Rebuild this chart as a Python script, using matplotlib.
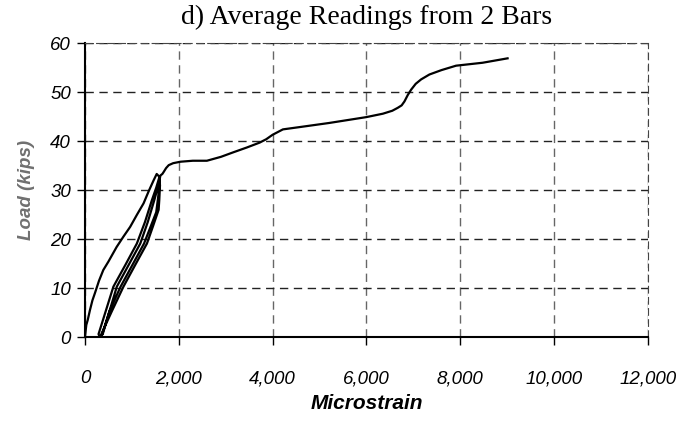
import matplotlib.pyplot as plt
from matplotlib.ticker import FuncFormatter

# average strain readings from the 2 bars (load in kips)
# first loading up to ~33 kips
load_strain = [0, 30, 60, 107, 160, 214, 300, 392, 500, 676, 820, 964,
               1110, 1250, 1360, 1464, 1530]
load_kips = [0, 2.5, 3.5, 5.5, 7.5, 9, 11.5, 13.7, 15.4, 18.4, 20.5, 22.5,
             25, 27.3, 29.8, 32, 33.3]

# unload / reload cycles
cycle_strain = [1580, 1600, 1585, 1571, 1450, 1322, 1070, 821, 570, 321,
                290, 450, 607, 860, 1107, 1280, 1429, 1520, 1585,
                1595, 1560, 1520, 1390, 1260, 1010, 760, 520, 360,
                380, 530, 680, 930, 1180, 1340, 1480, 1560, 1610]
cycle_kips = [32.8, 31, 28, 26, 22.6, 19.1, 14.7, 10.3, 5.2, 0,
              0.6, 5.5, 10.3, 14.7, 19.1, 23.5, 28, 30.5, 32.6,
              31.5, 28.5, 25.5, 22.3, 19.1, 14.7, 10.3, 5.2, 0.4,
              0.6, 5.5, 10.3, 14.7, 19.1, 23.5, 28, 30.8, 33]

# after the cycles, on to failure
fail_strain = [1650, 1678, 1730, 1786, 1880, 2036, 2300, 2600, 2900, 3156,
               3450, 3724, 3866, 4000, 4220, 4600, 5200, 5995, 6350, 6550,
               6667, 6750, 6810, 6880, 6952, 7050, 7165, 7342, 7600, 7910,
               8476, 9008]
fail_kips = [33.3, 33.7, 34.5, 35.1, 35.5, 35.8, 36.0, 36.0, 36.8, 37.7,
             38.7, 39.7, 40.4, 41.3, 42.4, 42.9, 43.7, 44.9, 45.6, 46.2,
             46.8, 47.3, 48.1, 49.4, 50.5, 51.7, 52.6, 53.6, 54.5, 55.4,
             56.0, 56.9]

strain = load_strain + cycle_strain + fail_strain
kips = load_kips + cycle_kips + fail_kips

fig = plt.figure(figsize=(6.96, 4.23), dpi=100)
ax = fig.add_axes([0.122, 0.203, 0.809, 0.695])

ax.plot(strain, kips, color='black', lw=1.6, solid_joinstyle='round')

ax.set_xlim(0, 12000)
ax.set_ylim(0, 60)
ax.set_xticks(range(0, 12001, 2000))
ax.set_yticks(range(0, 61, 10))
ax.xaxis.set_major_formatter(FuncFormatter(lambda v, p: f"{int(v):,}"))

ax.grid(True, axis='x', ls=(0, (6, 4)), color='#666666', lw=1)
ax.grid(True, axis='y', ls=(0, (6, 4)), color='#222222', lw=1)

ax.spines['left'].set_linewidth(1.5)
ax.spines['bottom'].set_linewidth(1.5)
for s in ['top', 'right']:
    ax.spines[s].set_linestyle((0, (6, 4)))
    ax.spines[s].set_color('#444444')

ax.tick_params(axis='x', length=6, width=1, pad=18)
ax.tick_params(axis='y', length=6, width=1, pad=4)
for lab in ax.get_xticklabels() + ax.get_yticklabels():
    lab.set_fontfamily('Liberation Sans')
    lab.set_fontstyle('italic')
    lab.set_fontsize(13.5)

ax.set_xlabel('Microstrain', fontfamily='Liberation Sans', fontstyle='italic',
              fontweight='bold', fontsize=15, labelpad=5)
ax.set_ylabel('Load (kips)', fontfamily='Liberation Sans', fontstyle='italic',
              fontweight='bold', fontsize=13.5, color='#707070', labelpad=11)
ax.set_title('d) Average Readings from 2 Bars', fontfamily='Liberation Serif',
             fontsize=20, pad=14)

fig.savefig('out.png', dpi=100)
